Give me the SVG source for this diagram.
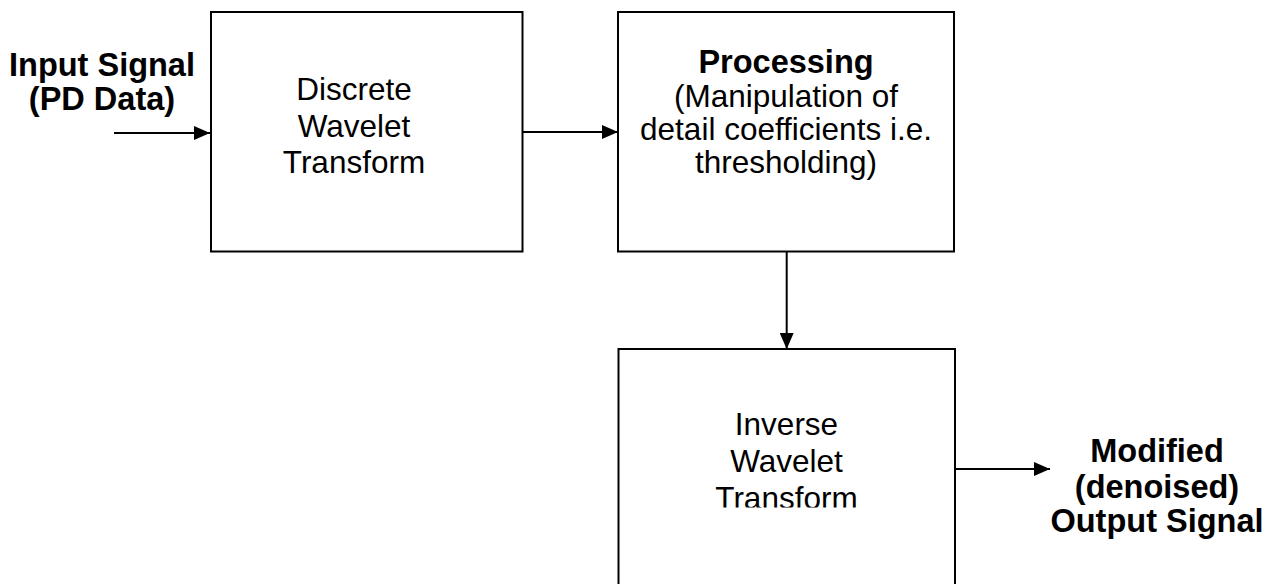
<svg xmlns="http://www.w3.org/2000/svg" width="1266" height="584" viewBox="0 0 1266 584">
  <style>
    .box { fill: #ffffff; stroke: #000000; stroke-width: 2; }
    .conn { stroke: #000000; stroke-width: 2; fill: none; }
    .reg { font-family: "Liberation Sans", Arial, sans-serif; font-size: 31.5px; fill: #000000; text-anchor: middle; }
    .bold { font-family: "Liberation Sans", Arial, sans-serif; font-size: 32.5px; font-weight: bold; fill: #000000; text-anchor: middle; }
  </style>
  <defs>
    <marker id="arrow" viewBox="0 0 16 14" refX="16" refY="7" markerWidth="16" markerHeight="14" markerUnits="userSpaceOnUse" orient="auto">
      <path d="M0,0 L16,7 L0,14 z" fill="#000000"/>
    </marker>
    <clipPath id="clip3">
      <rect x="618" y="349" width="337" height="158.5"/>
    </clipPath>
  </defs>
  <rect width="1266" height="584" fill="#ffffff"/>

  <g id="input-label">
    <text class="bold" x="102" y="76">Input Signal</text>
    <text class="bold" x="102" y="110">(PD Data)</text>
  </g>

  <g id="dwt">
    <rect class="box" x="211" y="12" width="311.5" height="239.5"/>
    <text class="reg" x="354" y="100">Discrete</text>
    <text class="reg" x="354" y="137">Wavelet</text>
    <text class="reg" x="354" y="173">Transform</text>
  </g>

  <g id="processing">
    <rect class="box" x="618" y="12" width="336" height="239.5"/>
    <text class="bold" x="786" y="73">Processing</text>
    <text class="reg" x="786" y="106.5">(Manipulation of</text>
    <text class="reg" x="786" y="140">detail coefficients i.e.</text>
    <text class="reg" x="786" y="173">thresholding)</text>
  </g>

  <g id="iwt">
    <rect class="box" x="618.5" y="349" width="336.5" height="260"/>
    <g clip-path="url(#clip3)">
      <text class="reg" x="786.5" y="435">Inverse</text>
      <text class="reg" x="786.5" y="471.5">Wavelet</text>
      <text class="reg" x="786.5" y="508.5">Transform</text>
    </g>
  </g>

  <g id="output-label">
    <text class="bold" x="1157" y="461.5">Modified</text>
    <text class="bold" x="1157" y="497.5">(denoised)</text>
    <text class="bold" x="1157" y="531.5">Output Signal</text>
  </g>

  <g id="connectors">
    <line class="conn" x1="114" y1="133" x2="210" y2="133" marker-end="url(#arrow)"/>
    <line class="conn" x1="522.5" y1="132" x2="618" y2="132" marker-end="url(#arrow)"/>
    <line class="conn" x1="786.7" y1="251.5" x2="786.7" y2="349" marker-end="url(#arrow)"/>
    <line class="conn" x1="955" y1="469" x2="1050" y2="469" marker-end="url(#arrow)"/>
  </g>
</svg>
